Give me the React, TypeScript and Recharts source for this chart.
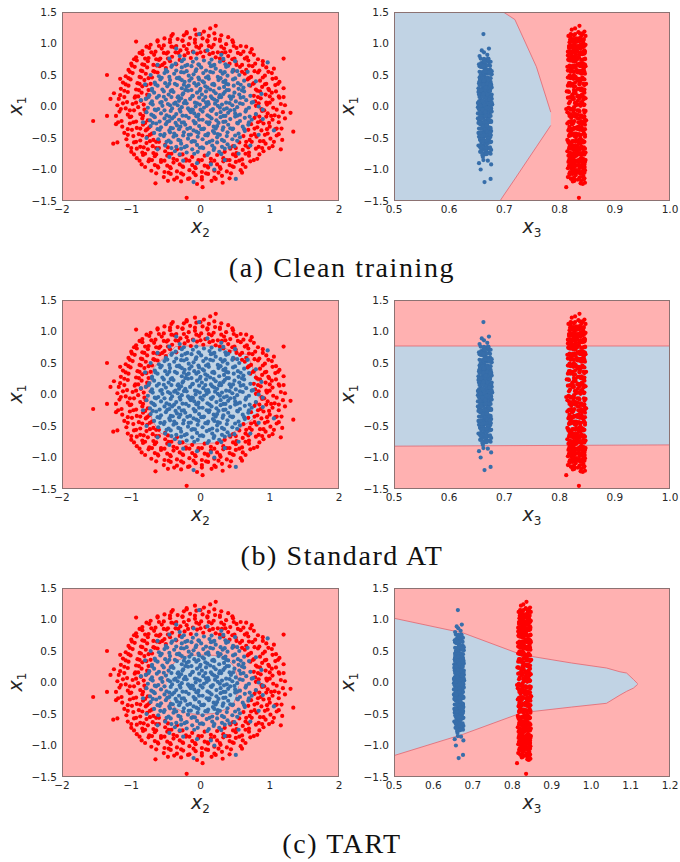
import { Area, ComposedChart, Scatter, XAxis, YAxis } from 'recharts';

const PINK = '#ffb1b1';
const REGION_BLUE = '#c1d3e4';
const DOT_BLUE = '#376eaa';
const DOT_RED = '#ff0000';
const EDGE = '#e2656e';
const FRAME = '#8c7272';
const TEXT = '#262626';

type Pt = [number, number, number];

// each point: [x2, x1, x3]
const BLUE_POINTS: Pt[] = [
  [-.76,-.02,.662],[-.69,.03,.671],[-.61,-.04,.655],[-.55,.01,.668],[-.47,.04,.659],[-.41,-.03,.676],[-.33,.02,.664],[-.27,-.01,.652],[-.2,.05,.67],[-.13,-.05,.661],[-.07,0,.666],[-.01,.03,.678],[.05,-.02,.657],[.12,.04,.669],[.18,-.04,.663],[.25,.01,.673],[.31,.03,.654],[.38,-.03,.667],[.46,.02,.66],[.53,-.01,.675],[.61,.04,.665],[.7,-.02,.658],[.84,0,.672],
  [-.79,.12,.667],[-.7,.08,.654],[-.63,.14,.673],[-.56,.07,.661],[-.5,.11,.669],[-.42,.15,.657],[-.36,.06,.664],[-.28,.13,.676],[-.22,.09,.66],[-.15,.12,.671],[-.08,.06,.653],[-.02,.14,.665],[.04,.1,.674],[.11,.07,.662],[.17,.13,.668],[.24,.09,.656],[.3,.15,.67],[.37,.06,.663],[.44,.12,.677],[.51,.08,.659],[.58,.14,.666],[.66,.1,.672],[.76,.07,.661],
  [-.78,-.09,.659],[-.71,-.13,.668],[-.64,-.06,.674],[-.57,-.11,.655],[-.49,-.14,.666],[-.43,-.07,.661],[-.35,-.12,.672],[-.29,-.08,.657],[-.21,-.15,.664],[-.16,-.06,.675],[-.09,-.11,.652],[-.03,-.13,.668],[.03,-.08,.66],[.1,-.14,.671],[.16,-.07,.663],[.23,-.12,.656],[.29,-.09,.674],[.36,-.15,.665],[.43,-.06,.658],[.5,-.11,.67],[.57,-.13,.662],[.65,-.08,.677],[.8,-.12,.666],
  [-.74,.18,.663],[-.67,.22,.656],[-.6,.17,.672],[-.53,.24,.66],[-.46,.19,.668],[-.39,.23,.653],[-.32,.16,.675],[-.25,.21,.664],[-.18,.25,.658],[-.11,.17,.67],[-.05,.22,.662],[.02,.19,.677],[.08,.24,.655],[.15,.16,.667],[.22,.21,.661],[.28,.18,.673],[.35,.23,.657],[.42,.16,.669],[.49,.22,.664],[.56,.19,.654],[.63,.24,.671],[.72,.17,.66],
  [-.73,-.22,.668],[-.66,-.17,.659],[-.59,-.24,.673],[-.52,-.19,.656],[-.45,-.23,.665],[-.38,-.16,.671],[-.31,-.21,.654],[-.24,-.25,.667],[-.17,-.18,.662],[-.1,-.23,.676],[-.04,-.16,.658],[.03,-.21,.669],[.09,-.25,.663],[.16,-.19,.652],[.23,-.22,.674],[.29,-.17,.66],[.36,-.24,.666],[.43,-.2,.657],[.5,-.16,.672],[.57,-.23,.664],[.64,-.18,.669],[.74,-.21,.655],
  [-.7,.28,.66],[-.62,.33,.671],[-.55,.27,.657],[-.48,.32,.666],[-.41,.26,.674],[-.34,.34,.662],[-.27,.29,.653],[-.2,.31,.668],[-.13,.26,.664],[-.06,.33,.676],[0,.28,.659],[.07,.32,.67],[.14,.27,.661],[.2,.34,.655],[.27,.29,.673],[.34,.31,.665],[.41,.26,.658],[.48,.33,.669],[.55,.28,.663],[.62,.3,.677],[.7,.34,.66],
  [-.72,-.31,.665],[-.64,-.27,.657],[-.57,-.33,.67],[-.5,-.28,.661],[-.43,-.34,.675],[-.36,-.26,.653],[-.29,-.32,.667],[-.22,-.29,.662],[-.15,-.34,.671],[-.08,-.27,.658],[-.02,-.31,.664],[.05,-.35,.674],[.12,-.28,.656],[.19,-.32,.668],[.26,-.26,.66],[.33,-.33,.672],[.4,-.29,.663],[.47,-.35,.654],[.54,-.27,.669],[.61,-.32,.666],[.69,-.29,.659],
  [-.66,.38,.668],[-.58,.43,.656],[-.51,.37,.673],[-.44,.42,.661],[-.37,.36,.666],[-.3,.44,.659],[-.23,.39,.675],[-.16,.41,.663],[-.09,.37,.654],[-.02,.43,.67],[.05,.38,.665],[.12,.44,.672],[.19,.36,.658],[.26,.42,.667],[.33,.39,.661],[.4,.35,.676],[.47,.43,.657],[.54,.37,.669],[.63,.41,.664],
  [-.67,-.42,.66],[-.59,-.37,.672],[-.52,-.44,.655],[-.45,-.38,.667],[-.38,-.43,.662],[-.31,-.36,.674],[-.24,-.41,.658],[-.17,-.45,.669],[-.1,-.38,.664],[-.03,-.42,.653],[.04,-.36,.671],[.11,-.43,.66],[.18,-.39,.676],[.25,-.44,.663],[.32,-.37,.668],[.39,-.41,.657],[.46,-.36,.673],[.55,-.43,.661],[.64,-.39,.666],
  [-.6,.48,.662],[-.52,.53,.674],[-.45,.47,.658],[-.38,.52,.668],[-.31,.46,.655],[-.24,.54,.671],[-.17,.49,.663],[-.1,.51,.677],[-.03,.46,.66],[.04,.53,.666],[.11,.48,.657],[.18,.54,.67],[.25,.47,.664],[.32,.52,.673],[.39,.49,.659],[.46,.55,.667],[.56,.5,.661],
  [-.61,-.52,.669],[-.53,-.47,.657],[-.46,-.54,.672],[-.39,-.48,.663],[-.32,-.53,.656],[-.25,-.46,.675],[-.18,-.51,.661],[-.11,-.55,.667],[-.04,-.48,.654],[.03,-.52,.671],[.1,-.46,.665],[.17,-.54,.659],[.24,-.49,.674],[.31,-.53,.662],[.38,-.47,.668],[.46,-.52,.656],[.57,-.49,.67],
  [-.5,.58,.665],[-.42,.63,.657],[-.35,.57,.672],[-.27,.62,.661],[-.2,.56,.668],[-.13,.64,.655],[-.06,.59,.674],[.01,.62,.663],[.08,.57,.67],[.15,.64,.659],[.22,.6,.666],[.29,.56,.677],[.37,.63,.662],[.47,.58,.669],
  [-.51,-.62,.66],[-.43,-.57,.671],[-.35,-.64,.656],[-.28,-.59,.667],[-.2,-.63,.662],[-.13,-.56,.675],[-.05,-.61,.658],[.02,-.65,.669],[.09,-.58,.664],[.17,-.62,.653],[.24,-.57,.673],[.31,-.64,.661],[.39,-.6,.668],[.49,-.63,.657],
  [-.36,.68,.663],[-.27,.72,.67],[-.19,.66,.656],[-.11,.71,.675],[-.03,.67,.661],[.05,.73,.668],[.13,.69,.658],[.2,.66,.672],[.28,.71,.664],[.36,.67,.654],
  [-.37,-.71,.667],[-.28,-.67,.659],[-.2,-.73,.673],[-.12,-.68,.662],[-.04,-.72,.656],[.04,-.66,.67],[.12,-.74,.664],[.19,-.69,.676],[.27,-.72,.658],[.35,-.67,.669],
  [-.86,.1,.668],[-.83,-.25,.66],[-.8,.35,.674],[-.72,.5,.657],[-.62,.66,.666],[-.45,.76,.671],[-.3,.8,.655],[-.1,.86,.663],[.1,.89,.659],[.3,.82,.669],[.5,.72,.662],[.68,.55,.675],[.8,.4,.658],[.88,.2,.67],[.97,.7,.664],[.9,-.05,.661],[1.06,-.38,.666],[.84,-.45,.673],[.72,-.62,.656],[.55,-.75,.668],[.35,-.85,.662],[.15,-.92,.676],[-.05,-.9,.654],[-.25,-.86,.67],[-.45,-.8,.661],[-.62,-.68,.667],[-.78,-.5,.659],[-.1,-1.2,.664],[.51,-1.15,.675],[-.02,1.15,.662],[.2,-1,.657],[-.35,.92,.672],
  [-.72,.05,.67],[-.58,.06,.659],[-.38,.045,.673],[-.24,.055,.662],[-.05,.05,.655],[.08,.06,.677],[.21,.045,.666],[.42,.055,.652],[.57,.05,.668],[.74,.06,.663],
  [-.66,-.05,.675],[-.52,-.06,.664],[-.3,-.045,.658],[-.11,-.055,.671],[0,-.05,.66],[.15,-.06,.668],[.34,-.045,.654],[.49,-.055,.673],[.66,-.05,.661],[.9,-.2,.67],
  [-.75,.15,.658],[-.53,.155,.67],[-.33,.145,.663],[-.12,.16,.676],[.07,.15,.655],[.27,.145,.667],[.47,.16,.661],[.62,.15,.674],
  [-.68,-.15,.666],[-.45,-.16,.656],[-.26,-.145,.672],[-.06,-.155,.663],[.13,-.16,.659],[.33,-.15,.675],[.53,-.145,.666],[.71,-.16,.657],
  [-.7,.255,.671],[-.43,.245,.66],[-.22,.26,.668],[-.01,.25,.654],[.19,.245,.674],[.38,.26,.664],[.6,.255,.658],
  [-.69,-.26,.662],[-.48,-.245,.673],[-.27,-.255,.657],[-.07,-.26,.669],[.13,-.25,.664],[.33,-.245,.676],[.53,-.26,.655],[.7,-.25,.667],
  [-.65,.35,.665],[-.45,.36,.672],[-.24,.345,.659],[-.03,.355,.668],[.17,.35,.656],[.37,.36,.67],[.58,.345,.662],
  [-.62,-.36,.669],[-.4,-.345,.658],[-.19,-.355,.674],[.01,-.36,.663],[.22,-.35,.66],[.43,-.345,.671],[.63,-.36,.665],
  [-.56,.455,.663],[-.34,.45,.675],[-.13,.445,.657],[.08,.46,.67],[.29,.45,.661],[.5,.445,.668],
  [-.58,-.45,.667],[-.35,-.46,.656],[-.14,-.445,.672],[.07,-.455,.662],[.28,-.45,.675],[.5,-.46,.659],
  [-.48,.555,.671],[-.28,.545,.66],[-.07,.56,.667],[.14,.55,.655],[.35,.545,.673],[.53,.56,.664],
  [-.49,-.56,.658],[-.29,-.545,.669],[-.08,-.555,.663],[.13,-.56,.676],[.34,-.55,.66],[.53,-.545,.667],
  [-.41,.655,.666],[-.22,.645,.674],[-.02,.66,.659],[.18,.65,.668],[.4,.645,.662],
  [-.42,-.66,.672],[-.23,-.645,.661],[-.01,-.655,.667],[.2,-.66,.657],[.42,-.65,.674],
  [-.24,.75,.668],[-.06,.76,.657],[.16,.745,.671],[.33,.755,.663],
  [-.3,-.76,.664],[-.09,-.75,.675],[.1,-.77,.66],[.3,-.755,.668],
  [-.44,.02,.664],[-.18,-.03,.671],[.09,.01,.657],[.28,-.02,.667],[-.31,.09,.66],[.2,.11,.673],[-.14,-.09,.665],[.4,-.1,.656],[-.26,.19,.669],[.33,.2,.662],[-.02,-.21,.672],[-.41,-.19,.658],[.1,.3,.666],[-.17,.33,.674],[.24,-.31,.661],[-.34,-.3,.668],[.03,.4,.655],[-.27,.42,.671],[.36,.41,.663],[-.06,-.4,.669],[.2,-.42,.657],[-.44,-.41,.674],
];

const RED_POINTS: Pt[] = [
  [-1.2,.02,.83],[-1.08,-.03,.818],[-.98,.04,.842],[-.9,-.01,.826],[-.82,.03,.835],[-1.15,-.04,.812],[.8,.01,.838],[.88,-.04,.822],[.96,.03,.845],[1.05,-.02,.816],[1.16,.04,.831],
  [-1.18,.12,.824],[-1.06,.07,.839],[-.95,.14,.815],[-.86,.09,.833],[-.78,.13,.847],[.79,.08,.819],[.87,.13,.836],[.95,.06,.828],[1.04,.11,.843],[1.14,.14,.821],
  [-1.17,-.08,.836],[-1.05,-.13,.82],[-.96,-.06,.844],[-.87,-.12,.829],[-.79,-.09,.814],[.8,-.13,.832],[.89,-.07,.847],[.97,-.11,.817],[1.07,-.14,.838],[1.19,-.09,.825],
  [-1.16,.18,.84],[-1.05,.23,.817],[-.94,.16,.832],[-.85,.22,.845],[-.77,.19,.823],[-1.25,.21,.829],[.77,.17,.834],[.86,.24,.813],[.94,.19,.841],[1.03,.22,.826],[1.13,.16,.836],
  [-1.14,-.23,.827],[-1.02,-.17,.842],[-.93,-.24,.818],[-.84,-.19,.835],[-.76,-.22,.848],[.78,-.18,.821],[.87,-.23,.839],[.95,-.16,.83],[1.04,-.21,.846],[1.13,-.25,.816],[1.22,-.19,.833],
  [-1.15,.28,.833],[-1.04,.33,.82],[-.93,.27,.845],[-.84,.32,.828],[-.75,.26,.838],[.72,.33,.815],[.8,.27,.843],[.89,.31,.826],[.98,.28,.836],[1.08,.34,.821],[1.2,.29,.84],
  [-1.13,-.32,.818],[-1.02,-.27,.837],[-.92,-.34,.826],[-.83,-.29,.846],[-.74,-.33,.831],[-1.22,-.28,.84],[.73,-.28,.823],[.82,-.33,.84],[.91,-.27,.814],[1,-.32,.834],[1.1,-.35,.827],
  [-1.12,.38,.828],[-1.01,.43,.845],[-.91,.37,.819],[-.81,.42,.836],[-.72,.36,.824],[.68,.43,.841],[.77,.37,.817],[.86,.41,.832],[.95,.36,.848],[1.04,.44,.825],[1.14,.39,.837],
  [-1.1,-.42,.844],[-.99,-.37,.823],[-.89,-.44,.835],[-.79,-.38,.816],[-.7,-.43,.83],[.69,-.37,.837],[.78,-.44,.819],[.88,-.38,.842],[.97,-.43,.827],[1.08,-.36,.834],[1.34,-.4,.82],
  [-1.08,.48,.821],[-.98,.53,.838],[-.88,.47,.829],[-.79,.52,.846],[-.7,.46,.815],[-.62,.54,.832],[-1.35,.5,.826],[.64,.52,.84],[.73,.47,.824],[.83,.54,.835],[.93,.49,.818],[1.03,.53,.843],
  [-1.07,-.52,.836],[-.97,-.47,.817],[-.87,-.54,.842],[-.77,-.48,.828],[-.68,-.53,.839],[-1.2,-.57,.822],[.62,-.47,.831],[.71,-.53,.814],[.81,-.48,.846],[.91,-.55,.825],[1.01,-.51,.838],[1.1,-.46,.82],
  [-1.04,.58,.83],[-.95,.63,.814],[-.86,.57,.84],[-.77,.62,.823],[-.68,.56,.836],[-.59,.64,.847],[-.5,.61,.819],[.48,.57,.833],[.57,.63,.842],[.66,.58,.822],[.75,.64,.837],[.85,.57,.815],[.95,.62,.829],[1.06,.6,.844],
  [-1.05,-.62,.826],[-.96,-.57,.843],[-.87,-.64,.818],[-.78,-.58,.835],[-.69,-.63,.828],[-.6,-.56,.845],[-.51,-.61,.821],[.47,-.63,.839],[.56,-.57,.816],[.65,-.62,.832],[.74,-.56,.844],[.84,-.64,.824],[.94,-.59,.837],[1.04,-.63,.819],
  [-1,.68,.838],[-.92,.73,.82],[-.84,.67,.845],[-.76,.72,.827],[-.68,.66,.834],[-.6,.74,.816],[-.52,.69,.842],[-.44,.72,.825],[-.35,.67,.833],[.33,.73,.818],[.42,.68,.84],[.51,.71,.829],[.6,.66,.846],[.69,.73,.822],[.79,.68,.836],[.9,.72,.827],
  [-1,-.72,.831],[-.92,-.67,.846],[-.84,-.73,.819],[-.76,-.68,.837],[-.68,-.74,.826],[-.6,-.66,.841],[-.51,-.71,.814],[-.42,-.75,.834],[-.34,-.68,.828],[.35,-.72,.843],[.43,-.67,.821],[.52,-.74,.838],[.61,-.69,.825],[.7,-.73,.847],[.8,-.67,.817],[.91,-.71,.833],
  [-.93,.78,.825],[-.84,.83,.841],[-.75,.77,.818],[-.67,.82,.836],[-.58,.76,.829],[-.49,.84,.845],[-.41,.79,.822],[-.32,.85,.838],[-.23,.81,.815],[-.14,.77,.832],[-.05,.84,.843],[.04,.79,.824],[.13,.83,.836],[.22,.78,.819],[.31,.85,.84],[.4,.8,.827],[.49,.76,.846],[.58,.83,.821],[.67,.78,.835],[.77,.82,.83],
  [-.92,-.82,.839],[-.83,-.77,.82],[-.74,-.84,.844],[-.66,-.79,.827],[-.57,-.85,.835],[-.48,-.78,.816],[-.39,-.83,.841],[-.3,-.77,.826],[-.21,-.84,.837],[-.12,-.8,.823],[-.03,-.85,.847],[.06,-.78,.829],[.15,-.83,.818],[.24,-.77,.84],[.33,-.82,.825],[.42,-.85,.836],[.51,-.79,.82],[.6,-.84,.843],[.7,-.78,.83],[.82,-.83,.838],
  [-.84,.88,.832],[-.74,.93,.817],[-.65,.87,.843],[-.56,.92,.826],[-.47,.86,.838],[-.38,.94,.821],[-.29,.89,.845],[-.2,.91,.83],[-.11,.87,.815],[-.02,.93,.836],[.07,.88,.824],[.16,.94,.842],[.25,.86,.828],[.34,.92,.838],[.43,.88,.819],[.52,.93,.833],[.62,.87,.846],[.74,.91,.826],
  [-.85,-.92,.821],[-.75,-.87,.84],[-.66,-.93,.828],[-.57,-.88,.846],[-.48,-.94,.817],[-.39,-.89,.835],[-.3,-.92,.824],[-.21,-.86,.843],[-.12,-.93,.83],[-.03,-.88,.819],[.06,-.94,.838],[.15,-.89,.826],[.24,-.92,.845],[.33,-.87,.822],[.42,-.93,.834],[.51,-.88,.816],[.61,-.92,.841],[.72,-.87,.829],
  [-.72,.98,.838],[-.62,1.03,.822],[-.53,.97,.845],[-.44,1.02,.829],[-.35,.96,.817],[-.26,1.04,.836],[-.17,.99,.826],[-.08,1.01,.843],[.01,.97,.82],[.1,1.03,.833],[.19,.98,.847],[.28,1.04,.825],[.37,.99,.839],[.47,1.02,.818],[.58,.96,.831],
  [-.71,-1.02,.827],[-.61,-.97,.843],[-.52,-1.04,.819],[-.43,-.98,.836],[-.34,-1.03,.824],[-.25,-.96,.845],[-.16,-1.01,.83],[-.07,-.98,.815],[.02,-1.04,.838],[.11,-.97,.826],[.2,-1.02,.842],[.29,-.99,.821],[.38,-1.03,.834],[.48,-.96,.818],[.58,-1.01,.846],
  [-.52,1.08,.83],[-.42,1.12,.816],[-.33,1.07,.844],[-.24,1.13,.826],[-.15,1.09,.838],[-.06,1.14,.821],[.03,1.08,.835],[.12,1.12,.847],[.21,1.07,.825],[.3,1.13,.84],[.4,1.1,.82],
  [-.53,-1.12,.842],[-.43,-1.07,.823],[-.34,-1.13,.836],[-.25,-1.08,.818],[-.16,-1.14,.845],[-.07,-1.09,.829],[.02,-1.12,.815],[.11,-1.07,.838],[.2,-1.13,.826],[.31,-1.1,.843],[.42,-1.14,.82],
  [-.2,1.18,.834],[-.08,1.22,.822],[.05,1.19,.845],[.14,1.24,.828],[.22,1.28,.836],
  [-.65,-1.22,.838],[-.28,-1.19,.824],[-.05,-1.23,.842],[.16,-1.18,.827],[.32,-1.21,.846],
  [-1.55,-.23,.822],[-.2,-1.45,.835],[-.93,1.03,.82],[1.2,.76,.828],[-1.35,-.15,.84],[1.16,-.68,.833],[-1.26,-.59,.818],[.03,-1.28,.812],[-1.3,.12,.826],[1.3,-.1,.845],
  [-1.12,.05,.828],[-.93,.06,.841],[-.81,-.05,.82],[-1.02,-.06,.835],[.84,.05,.817],[1,.06,.84],[1.1,-.05,.826],[.92,-.06,.832],[1.22,.02,.844],
  [-1.1,.15,.819],[-.9,.16,.838],[-1.22,-.15,.83],[-1,-.16,.845],[-.83,-.15,.824],[.83,.15,.844],[1,.16,.824],[1.2,.15,.836],[.85,-.16,.828],[1.02,-.15,.818],[1.13,-.16,.84],
  [-1.1,.25,.842],[-.89,.26,.826],[-.97,-.25,.834],[-.8,-.26,.821],[-1.19,-.25,.845],[.82,.25,.829],[.99,.26,.84],[1.09,.24,.816],[.83,-.25,.843],[.99,-.26,.825],
  [-1.08,.35,.836],[-.88,.36,.82],[-.78,.34,.845],[-1.05,-.36,.824],[-.87,-.35,.84],[-.77,-.36,.817],[.76,.36,.836],[.93,.35,.821],[1.12,.36,.843],[.78,-.35,.831],[.96,-.36,.846],[1.17,-.35,.82],
  [-1.04,.45,.827],[-.86,.46,.841],[-.75,.45,.82],[-1.16,.44,.835],[-1.05,-.45,.818],[-.84,-.46,.837],[-.73,-.45,.846],[.7,.45,.83],[.9,.46,.816],[1.09,.45,.842],[.73,-.46,.826],[.93,-.45,.839],[1.13,-.44,.823],
  [-1.02,.55,.845],[-.84,.56,.823],[-.66,.55,.838],[-.93,-.56,.829],[-.73,-.55,.816],[-.64,-.56,.842],[.6,.55,.826],[.78,.56,.844],[.98,.55,.82],[.66,-.56,.838],[.86,-.55,.823],[1.06,-.56,.834],[1.18,-.53,.83],
  [-.99,.65,.824],[-.81,.66,.84],[-.63,.65,.818],[-.55,.66,.835],[-1,-.66,.842],[-.82,-.65,.825],[-.64,-.66,.838],[-.47,-.65,.82],[.52,.66,.839],[.7,.65,.827],[.9,.66,.845],[.51,-.66,.828],[.69,-.65,.844],[.89,-.66,.821],[.99,-.66,.833],
  [-.96,.75,.832],[-.8,.76,.818],[-.64,.75,.843],[-.47,.76,.826],[-.3,.74,.839],[.28,.76,.822],[.46,.75,.846],[.64,.76,.829],[.83,.75,.816],[-.96,-.76,.843],[-.8,-.75,.826],[-.64,-.76,.84],[-.46,-.75,.818],[-.26,-.76,.834],[.3,-.75,.827],[.47,-.76,.845],[.65,-.75,.82],[.85,-.76,.838],
  [-.88,.85,.841],[-.71,.86,.823],[-.53,.85,.836],[-.36,.86,.817],[-.18,.85,.845],[0,.86,.829],[.18,.85,.838],[.36,.86,.82],[.54,.85,.843],[.72,.86,.826],[-.88,-.86,.83],[-.7,-.85,.844],[-.52,-.86,.821],[-.34,-.85,.839],[-.16,-.86,.826],[.02,-.85,.835],[.2,-.86,.817],[.38,-.85,.846],[.56,-.86,.824],[.77,-.85,.838],
  [-.78,.95,.827],[-.6,.96,.845],[-.42,.95,.82],[-.24,.96,.836],[-.06,.95,.828],[.12,.96,.842],[.3,.95,.818],[.48,.96,.834],[.66,.95,.823],[-.8,-.96,.836],[-.62,-.95,.819],[-.44,-.96,.843],[-.26,-.95,.827],[-.08,-.96,.84],[.1,-.95,.822],[.28,-.96,.837],[.46,-.95,.828],[.65,-.96,.845],
  [-.62,1.05,.836],[-.44,1.06,.819],[-.26,1.05,.843],[-.08,1.06,.827],[.1,1.05,.84],[.28,1.06,.822],[.46,1.05,.835],[-.64,-1.06,.824],[-.46,-1.05,.841],[-.28,-1.06,.818],[-.1,-1.05,.836],[.08,-1.06,.829],[.26,-1.05,.845],[.44,-1.06,.82],[.6,-1.05,.833],
  [-.4,1.15,.828],[-.2,1.16,.842],[0,1.15,.82],[.2,1.16,.837],[-.38,-1.16,.833],[-.18,-1.15,.821],[.02,-1.16,.844],[.22,-1.15,.826],[-.47,-1.18,.839],
];

// blue decision region of each panel: [x, lower x1, upper x1]
const REGION_A_X3: Pt[] = [[.5,-1.5,1.5],[.692,-1.5,1.5],[.698,-1.42,1.5],[.719,-1.15,1.38],[.758,-.64,.63],[.784,-.3,-.09]];
const REGION_B_X2: Pt[] = [[-.725,-.25,.14],[-.7,-.4,.28],[-.68,-.44,.42],[-.58,-.61,.53],[-.48,-.66,.63],[-.36,-.71,.76],[-.19,-.79,.77],[.19,-.77,.77],[.24,-.77,.76],[.68,-.45,.63],[.82,-.33,.24],[.83,-.32,.2]];
const REGION_B_X3: Pt[] = [[.5,-.82,.77],[1,-.8,.77]];
const REGION_C_X2: Pt[] = [[-.48,-.12,.1],[-.45,-.27,.24],[-.36,-.41,.33],[-.2,-.49,.42],[0,-.51,.44],[.2,-.49,.43],[.38,-.42,.38],[.48,-.33,.26],[.53,-.18,.1],[.55,-.06,-.02]];
const REGION_C_X3: Pt[] = [[.5,-1.16,1.02],[.676,-.82,.785],[.824,-.48,.44],[.95,-.39,.31],[1.039,-.33,.23],[1.073,-.2,.17],[1.09,-.14,.15],[1.107,-.09,.05],[1.118,-.03,-.02]];

const X1_TICKS = [-1.5, -1, -0.5, 0, 0.5, 1, 1.5];
const X2_TICKS = [-2, -1, 0, 1, 2];
const X3_TICKS = [0.5, 0.6, 0.7, 0.8, 0.9, 1.0];
const X3_TICKS_WIDE = [0.5, 0.6, 0.7, 0.8, 0.9, 1.0, 1.1, 1.2];

const CAPTIONS = ['(a) Clean training', '(b) Standard AT', '(c) TART'];

const ROW_TOPS = [12, 300, 588];
const PLOT_H = 189;
const LEFT_PLOT = { x: 62, w: 277 };
const RIGHT_PLOT = { x: 394, w: 276 };

const fmt = (digits: number) => (v: number) =>
  (v < 0 ? '\u2212' : '') + Math.abs(v).toFixed(digits);

const dot = (color: string) => (props: any) =>
  <circle cx={props.cx} cy={props.cy} r={2.1} fill={color} />;

type PanelProps = {
  top: number;
  plot: { x: number; w: number };
  xIndex: 0 | 2;
  xDomain: [number, number];
  xTicks: number[];
  xDigits: number;
  region: Pt[] | null;
};

function Panel({ top, plot, xIndex, xDomain, xTicks, xDigits, region }: PanelProps) {
  const red = RED_POINTS.map((p) => ({ x: p[xIndex], y: p[1] }));
  const blue = BLUE_POINTS.map((p) => ({ x: p[xIndex], y: p[1] }));
  const areaData = (region || []).map((r) => ({ x: r[0], range: [r[1], r[2]] }));
  const width = plot.w + 62 + 12;
  const height = 12 + PLOT_H + 20 + 20;
  return (
    <>
      <div
        style={{
          position: 'absolute',
          left: plot.x,
          top,
          width: plot.w,
          height: PLOT_H,
          background: PINK,
        }}
      />
      <div style={{ position: 'absolute', left: plot.x - 62, top: top - 12, zIndex: 1 }}>
        <ComposedChart
          width={width}
          height={height}
          data={areaData}
          margin={{ top: 12, right: 12, bottom: 20, left: 12 }}>
          <XAxis
            type="number"
            dataKey="x"
            domain={xDomain}
            ticks={xTicks}
            interval={0}
            allowDataOverflow
            axisLine={false}
            tickLine={false}
            tickSize={0}
            tickMargin={5}
            height={20}
            tick={{ fontSize: 10.5, fill: TEXT, fontFamily: 'DejaVu Sans' }}
            tickFormatter={fmt(xDigits)}
          />
          <YAxis
            type="number"
            dataKey="y"
            domain={[-1.5, 1.5]}
            ticks={X1_TICKS}
            interval={0}
            allowDataOverflow
            axisLine={false}
            tickLine={false}
            tickSize={0}
            tickMargin={5}
            width={50}
            tick={{ fontSize: 10.5, fill: TEXT, fontFamily: 'DejaVu Sans' }}
            tickFormatter={fmt(1)}
          />
          {region && (
            <Area
              type="linear"
              dataKey="range"
              fill={REGION_BLUE}
              fillOpacity={1}
              stroke={EDGE}
              strokeWidth={0.8}
              dot={false}
              activeDot={false}
              isAnimationActive={false}
            />
          )}
          <Scatter data={red} fill={DOT_RED} shape={dot(DOT_RED)} isAnimationActive={false} />
          <Scatter data={blue} fill={DOT_BLUE} shape={dot(DOT_BLUE)} isAnimationActive={false} />
        </ComposedChart>
      </div>
      <div
        style={{
          position: 'absolute',
          left: plot.x,
          top,
          width: plot.w,
          height: PLOT_H,
          border: `1px solid ${FRAME}`,
          boxSizing: 'border-box',
          zIndex: 2,
        }}
      />
    </>
  );
}

function MathLabel({ x, y, sub, rotate }: { x: number; y: number; sub: string; rotate?: boolean }) {
  return (
    <text
      x={x}
      y={y}
      textAnchor="middle"
      fontFamily="DejaVu Sans"
      fontSize={19}
      fill={TEXT}
      transform={rotate ? `rotate(-90 ${x} ${y})` : undefined}>
      <tspan fontStyle="italic">x</tspan>
      <tspan fontSize={12} dy={4}>
        {sub}
      </tspan>
    </text>
  );
}

const LEFT_REGIONS = [null, REGION_B_X2, REGION_C_X2];
const RIGHT_REGIONS = [REGION_A_X3, REGION_B_X3, REGION_C_X3];

export default function App() {
  return (
    <div
      style={{
        position: 'absolute',
        left: 0,
        top: 0,
        width: 680,
        height: 862,
        background: '#fff',
        overflow: 'hidden',
      }}>
      {ROW_TOPS.map((top, i) => (
        <div key={i}>
          <Panel
            top={top}
            plot={LEFT_PLOT}
            xIndex={0}
            xDomain={[-2, 2]}
            xTicks={X2_TICKS}
            xDigits={0}
            region={LEFT_REGIONS[i]}
          />
          <Panel
            top={top}
            plot={RIGHT_PLOT}
            xIndex={2}
            xDomain={i === 2 ? [0.5, 1.2] : [0.5, 1.0]}
            xTicks={i === 2 ? X3_TICKS_WIDE : X3_TICKS}
            xDigits={1}
            region={RIGHT_REGIONS[i]}
          />
        </div>
      ))}
      <svg
        width={680}
        height={862}
        style={{ position: 'absolute', left: 0, top: 0, zIndex: 3, pointerEvents: 'none' }}>
        {ROW_TOPS.map((top, i) => (
          <g key={i}>
            <MathLabel x={22} y={top + 94} sub="1" rotate />
            <MathLabel x={354} y={top + 94} sub="1" rotate />
            <MathLabel x={LEFT_PLOT.x + LEFT_PLOT.w / 2} y={top + 221} sub="2" />
            <MathLabel x={RIGHT_PLOT.x + RIGHT_PLOT.w / 2} y={top + 221} sub="3" />
            <text
              x={342}
              y={top + 265}
              textAnchor="middle"
              style={{ fontFamily: "'Liberation Serif', 'Times New Roman', serif" }}
              fontSize={28}
              letterSpacing={1.6}
              fill="#111">
              {CAPTIONS[i]}
            </text>
          </g>
        ))}
      </svg>
    </div>
  );
}
